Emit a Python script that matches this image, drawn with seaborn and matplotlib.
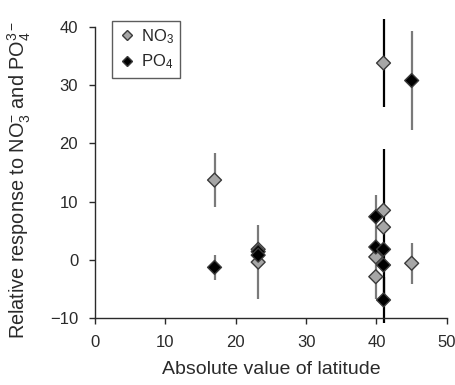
import matplotlib
matplotlib.use("Agg")
import matplotlib.pyplot as plt
import seaborn as sns
import pandas as pd
import numpy as np

# Data
no3_lat = [17.0, 23.2, 23.2, 39.9, 39.9, 41.0, 41.0, 41.0, 45.0]
no3_val = [13.7, 1.8, -0.4, 0.5, -2.9, 33.8, 8.5, 5.6, -0.6]
no3_err = [4.7, 0.0, 6.3, 0.0, 0.0, 7.6, 0.0, 13.4, 3.5]

po4_lat = [17.0, 23.2, 23.2, 39.9, 39.9, 41.0, 41.0, 41.0, 45.0]
po4_val = [-1.3, 1.4, 0.8, 7.4, 2.2, 1.8, -0.9, -6.9, 30.8]
po4_err = [2.2, 0.0, 0.0, 0.0, 9.0, 0.0, 0.0, 4.0, 8.5]

# bar colours (style only)
no3_bar_col = ["#7a7a7a", "#7a7a7a", "#7a7a7a", "#7a7a7a", "#7a7a7a", "#000000", "#7a7a7a", "#000000", "#7a7a7a"]
po4_bar_col = ["#7a7a7a", "#7a7a7a", "#7a7a7a", "#7a7a7a", "#7a7a7a", "#7a7a7a", "#7a7a7a", "#000000", "#7a7a7a"]

x_ticks = [0, 10, 20, 30, 40, 50]
y_ticks = [-10, 0, 10, 20, 30, 40]

sns.set_theme(style="ticks")
plt.rcParams["font.family"] = ["Liberation Sans", "DejaVu Sans"]
plt.rcParams["mathtext.fontset"] = "custom"
plt.rcParams["mathtext.rm"] = "Liberation Sans"
plt.rcParams["mathtext.it"] = "Liberation Sans:italic"
plt.rcParams["mathtext.bf"] = "Liberation Sans:bold"

df = pd.DataFrame({
    "lat": no3_lat + po4_lat,
    "val": no3_val + po4_val,
    "series": ["NO$_3$"] * len(no3_lat) + ["PO$_4$"] * len(po4_lat),
})

fig = plt.figure(figsize=(4.56, 3.85), dpi=100)
ax = fig.add_axes([0.208, 0.174, 0.772, 0.756])

# error bars
for xs, ys, es, cs in [(no3_lat, no3_val, no3_err, no3_bar_col), (po4_lat, po4_val, po4_err, po4_bar_col)]:
    for x, y, e, c in zip(xs, ys, es, cs):
        if e > 0:
            ax.errorbar([x], [y], yerr=[e], fmt="none", ecolor=c, elinewidth=1.6,
                        capsize=0, clip_on=False, zorder=1)

sns.scatterplot(data=df, x="lat", y="val", hue="series", style="series",
                markers={"NO$_3$": "D", "PO$_4$": "D"},
                palette={"NO$_3$": "#a6a6a6", "PO$_4$": "#000000"},
                edgecolor="#3a3a3a", linewidth=1.0, s=50, ax=ax, zorder=3,
                legend=True)
for coll in ax.collections:
    coll.set_clip_on(False)

ax.set_xlim(0, 50)
ax.set_ylim(-10, 40)
ax.set_xticks(x_ticks)
ax.set_yticks(y_ticks)
ax.set_xticklabels([str(t) for t in x_ticks])
ax.set_yticklabels([str(t).replace("-", "\u2212") for t in y_ticks])
ax.tick_params(axis="both", labelsize=12, colors="#2a2a2a", length=4.5, width=1.0,
               direction="out", pad=7.5)
for sp in ["top", "right"]:
    ax.spines[sp].set_visible(False)
for sp in ["left", "bottom"]:
    ax.spines[sp].set_color("#2a2a2a")
    ax.spines[sp].set_linewidth(1.0)

ax.set_xlabel("Absolute value of latitude", fontsize=14, color="#2a2a2a", labelpad=8)
ax.set_ylabel("Relative response to NO$_3^{-}$ and PO$_4^{3-}$", fontsize=14.3, color="#2a2a2a")
ax.yaxis.set_label_coords(-0.175, 0.475)

leg = ax.legend(loc="upper left", bbox_to_anchor=(0.05, 1.022), borderaxespad=0,
                frameon=True, fancybox=False,
                edgecolor="#333333", fontsize=12, handletextpad=0.3, borderpad=0.4,
                labelspacing=0.4, handlelength=1.0, markerscale=0.75)
leg.get_frame().set_linewidth(1.0)
leg.set_title(None)

fig.savefig("out.png", dpi=100)
